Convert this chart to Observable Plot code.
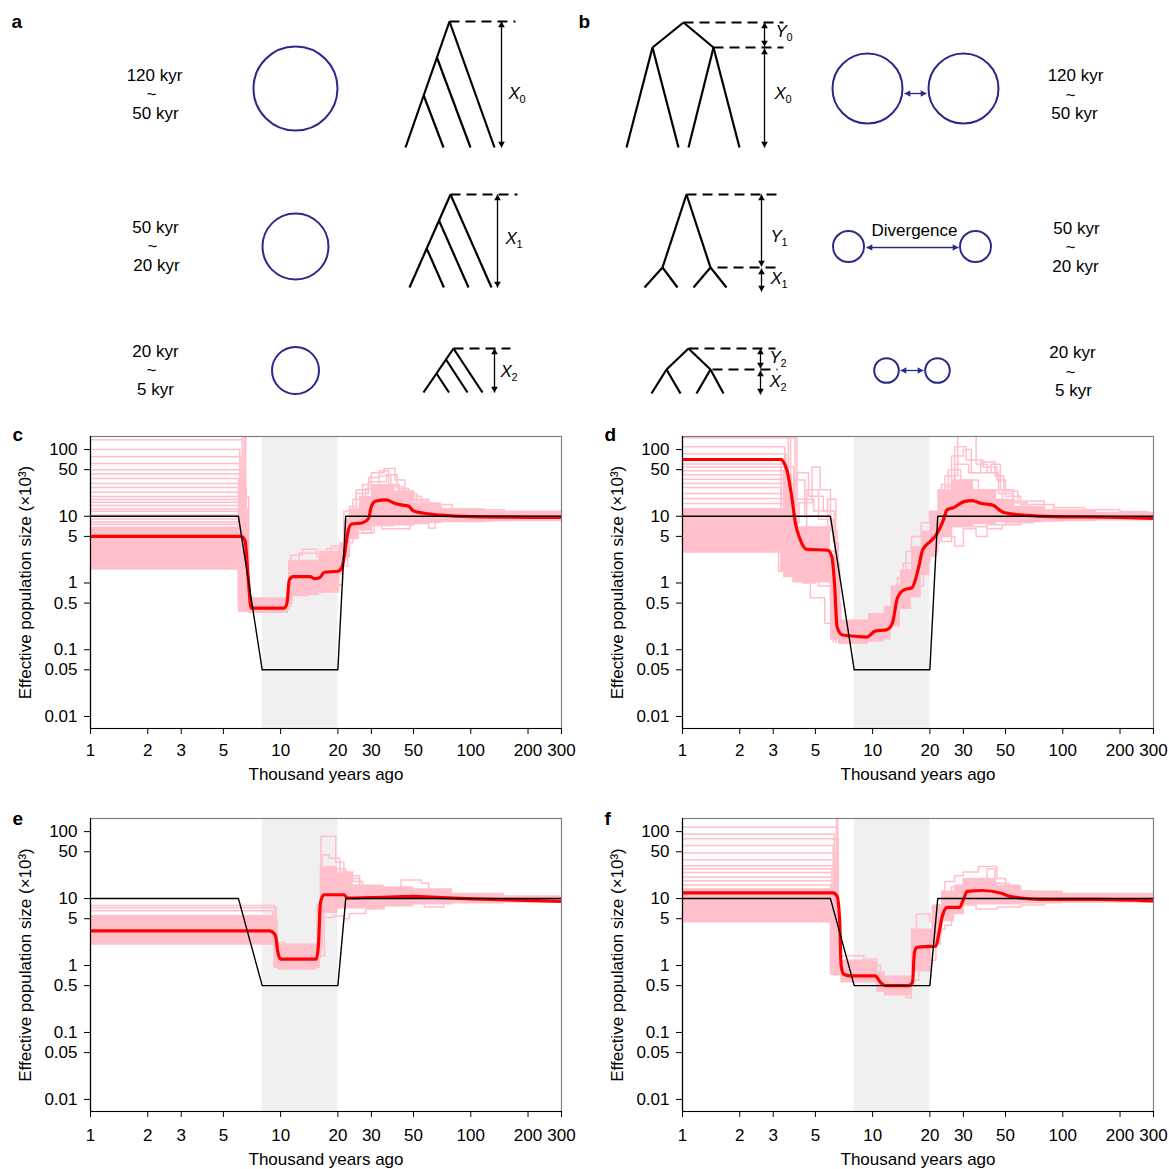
<!DOCTYPE html>
<html><head><meta charset="utf-8">
<script src="https://cdn.jsdelivr.net/npm/d3@7"></script>
<script src="https://cdn.jsdelivr.net/npm/@observablehq/plot@0.6"></script>
<style>
html,body{margin:0;padding:0;background:#fff;width:1169px;height:1169px;overflow:hidden;}
#root{position:relative;width:1169px;height:1169px;}
</style></head><body><div id="root"></div>
<script>
// ---------- shared axes ----------
const xTicks = [1, 2, 3, 5, 10, 20, 30, 50, 100, 200, 300];
const yTicks = [0.01, 0.05, 0.1, 0.5, 1, 5, 10, 50, 100];
const xTitle = "Thousand years ago";
const yTitle = "Effective population size (×10³)";
const shade = [8, 20];

// ---------- panel c ----------
const truthC = [[1,10],[6,10],[8,0.05],[20,0.05],[22,10],[300,10]];
const redC = [[1,5],[6.2,5],[6.5,4.3],[6.75,1.2],[7.0,0.42],[10.4,0.42],[10.8,0.5],[11.1,1.1],[11.6,1.25],[14.3,1.25],[15,1.16],[16,1.2],[17,1.45],[20,1.5],[21,1.7],[21.8,3],[22.5,5.5],[23.5,7.6],[27,8],[29,9.3],[30,14],[31.5,16.8],[36,17.6],[39,16],[43,14.8],[47,14.2],[50,12],[57,11.1],[70,10.4],[100,9.9],[300,9.6]];
const bandC = [[1,1.55,6.9],[6.0,0.36,8],[6.8,0.35,0.6],[11.0,0.65,2.2],[16,0.7,3],[20.5,1.3,4],[21.5,2.5,9],[23,4.5,13],[26,6,20],[30,7,30],[40,7.5,24],[50,7.8,16],[70,8,13],[120,8.3,12],[300,8.3,11]];
const earlyC = [[500,6.45],[300,6.3],[200,6.55],[140,6.3],[100,6.1],[78,6.2],[62,6.5],[50,6.4],[43,6.15],[37,6.0],[31,6.45],[27,6.6],[23,6.2],[19.8,6.8],[17.8,6.5],[16.2,6.1],[14.5,6.3],[12.9,6.7],[11.9,6.0],[10.5,6.4],[9.1,6.2],[8.2,6.6],[7.6,6.35]];
const floorC = [0.45, 7.2];
const extraC = [
 [[10.8,0.45],[11.3,2.6],[13,3.2],[15.5,2.5],[17.5,3.3],[20.3,2.2],[21,1.5]],
 [[10.8,0.4],[11.1,0.65],[14,0.72],[16.5,0.9],[20.5,0.95],[21.2,1.6]],
 [[10.6,0.5],[11.5,1.8],[12.5,2.8],[16,2.2],[18.5,3.6],[20.6,2.8],[21.3,4]],
 [[20.5,2],[21.5,12],[24,18],[27,30],[30,45],[35,52],[40,35],[45,20],[55,14],[70,11.5],[100,10.5]],
 [[20.5,3],[22,8],[25,22],[29,38],[33,48],[37,30],[42,24],[50,17],[60,13],[90,11]],
 [[21,1.8],[22.5,6],[24,5.6],[26,5.6],[30,8.5],[34,6.5],[46,6.5],[48,7.8],[60,6.6],[65,9],[100,9.5]],
 [[21,2.5],[23,10],[26,15],[28,26],[33,40],[38,28],[44,22],[52,15],[80,12],[120,11]],
 [[22,4],[24,7],[27,5.6],[31,9],[38,7.5],[50,8.2],[70,8.5],[130,9]],
 [[21.5,6],[23,14],[25,25],[29,33],[36,42],[41,26],[47,18],[60,12.5]],
 [[60,10],[75,13],[110,12.5],[150,11],[200,10.5]]
];

// ---------- panel d ----------
const truthD = [[1,10],[6,10],[8,0.05],[20,0.05],[22,10],[300,10]];
const redD = [[1,71],[3.3,71],[3.45,60],[3.55,48],[3.77,18],[3.92,8],[4.17,4.4],[4.5,3.2],[5.8,3.1],[6.1,2.5],[6.3,1.0],[6.5,0.22],[6.9,0.168],[8.3,0.158],[9.3,0.155],[10.3,0.19],[11.9,0.2],[12.7,0.25],[13.5,0.6],[14.6,0.79],[16.1,0.85],[17.5,1.77],[18.3,3.1],[20.1,4.2],[21.3,5],[23.6,8.9],[24.6,12.5],[26.7,13.5],[30.2,16.6],[33.4,17.2],[36.9,15.7],[43.4,14.5],[45.2,13.2],[49,11.4],[60,10.5],[80,10],[200,9.6],[300,9.3]];
const bandD = [[1,2.8,13],[3.4,1.2,14],[3.8,1.0,7],[6.0,0.14,2.5],[6.6,0.12,0.28],[9.5,0.13,0.35],[11.5,0.14,0.45],[12.5,0.22,0.9],[14,0.4,1.6],[16,0.6,3.5],[18,1.3,6],[20,2.5,12],[22,5,25],[26,7,35],[34,7.5,25],[45,8,18],[55,8,14],[80,8.3,12.5],[150,8.5,11.5],[300,8.5,11]];
const earlyD = [[400,3.6],[300,3.9],[200,3.7],[150,4.0],[110,3.45],[86,3.5],[72,3.3],[61,3.6],[55,3.85],[48,3.4],[42,3.75],[36,3.7],[31,3.55],[27,3.3],[22,3.5],[18.5,3.65],[15.5,3.8],[13,3.2],[11.5,3.9],[9,3.45],[7,3.6],[5.5,3.35]];
const floorD = [1.5, 4.2];
const extraD = [
 [[3.5,30],[4.0,45],[4.6,20],[5.5,12],[6.3,0.3],[6.6,0.15]],
 [[3.6,8],[4.1,16],[4.8,55],[5.3,25],[6.0,6],[6.5,0.2]],
 [[3.7,4],[4.3,1.0],[5.0,2.2],[6.1,0.9],[6.4,0.25]],
 [[3.4,12],[3.9,35],[4.4,10],[5.8,18],[6.4,2],[6.7,0.14]],
 [[4.2,3],[4.7,0.6],[5.6,0.25],[6.2,0.13]],
 [[3.8,6],[4.5,25],[5.2,9],[6.2,4],[6.6,0.2]],
 [[3.9,2.5],[4.6,5.5],[5.4,1.6],[6.3,0.5],[6.8,0.13]],
 [[4.0,18],[4.9,12],[5.8,3],[6.5,0.16]],
 [[3.6,1.3],[4.4,2],[5.2,0.9],[6.0,0.6],[6.4,0.13]],
 [[12.5,0.5],[13.5,1.2],[15,3],[16,5],[18,8],[20,12]],
 [[11.5,0.35],[13,0.7],[14.5,2],[17,3],[19,5],[21,9]],
 [[21,5],[24,40],[28,160],[35,60],[40,45],[46,22],[55,14],[70,12],[100,11]],
 [[20.5,8],[23,30],[27,110],[31,70],[38,55],[45,35],[50,20],[60,15],[90,12.5]],
 [[19,2.5],[21,6],[24,5],[27,3.6],[30,6.5],[35,5],[40,7.5],[50,8],[70,8.5],[100,9]],
 [[20,4],[22.5,20],[26,80],[30,100],[33,45],[42,60],[47,25],[55,17],[80,13]],
 [[18,1.8],[19.5,3],[22,11],[25,50],[29,35],[36,25],[48,16],[65,12]],
 [[17,0.9],[18.5,2],[20,5],[23,4.2],[26,7],[40,6.5],[48,7.5],[60,8]],
 [[21.5,10],[24,28],[27,60],[32,45],[37,65],[44,40],[49,24],[58,16]],
 [[70,10],[90,13.5],[130,12.5],[200,11.8],[280,11]]
];

// ---------- panel e ----------
const truthE = [[1,10],[6,10],[8,0.5],[20,0.5],[22,10],[300,10]];
const redE = [[1,3.3],[8.7,3.3],[9.0,3.2],[9.4,2.8],[9.66,1.6],[10,1.25],[15.4,1.25],[15.8,2.0],[16.2,8.8],[16.9,11.4],[21.5,11.4],[22.5,10.2],[40,10.6],[50,10.8],[70,10.3],[100,9.9],[300,9.1]];
const bandE = [[1,2.0,5.6],[9.2,0.9,5.0],[9.7,0.85,2.1],[15.5,0.9,8],[16.2,6,30],[20,7,24],[24,7,16],[35,7.5,15],[50,8,14],[80,8.3,12],[150,8.5,11],[300,8.5,11]];
const earlyE = [[7.9,9.3],[7.3,9.5],[6.6,9.1]];
const floorE = [2, 9.8];
const extraE = [
 [[15.8,1.5],[16.3,85],[19.5,35],[21.5,20],[23.5,12],[30,11]],
 [[16,2],[16.5,45],[18,40],[20.5,25],[24,18],[27,12]],
 [[15.5,1.3],[16.2,30],[19,28],[22,22],[26,14],[32,11]],
 [[16,1.8],[16.6,5.2],[19,5.5],[21.5,5],[23,6],[28,7],[35,9]],
 [[16.2,1.4],[17,22],[23,20],[26,13],[35,12]],
 [[40,10],[43,19],[55,17],[60,12]],
 [[55,10],[57,13.5],[73,12],[80,10]],
 [[48,9],[57,7.5],[72,8.5]],
 [[9.6,2.2],[10.5,1.9],[15.6,2]]
];

// ---------- panel f ----------
const truthF = [[1,10],[6,10],[8,0.5],[20,0.5],[22,10],[300,10]];
const redF = [[1,12.2],[6.2,12.2],[6.5,10.8],[6.7,5],[6.83,1.0],[7.05,0.74],[7.6,0.7],[10.3,0.7],[11,0.56],[11.7,0.5],[15.5,0.5],[16.2,0.56],[16.6,1.58],[17.1,1.87],[21.5,1.95],[22.3,3],[23.3,5.6],[24.7,7.4],[28.7,7.4],[30.1,9.9],[31.4,12.8],[37.7,13.2],[47,12.1],[52,10.9],[60,10.2],[76,9.7],[150,9.7],[300,9.2]];
const bandF = [[1,4.3,14],[6.2,0.7,6],[6.8,0.55,1.15],[10.5,0.4,0.8],[11.5,0.35,0.7],[16,0.8,3.5],[20.5,2,8],[23,4.5,13],[27,6,16],[30,8,20],[45,8,16],[60,8.3,13],[100,8.5,12],[300,8.5,11]];
const earlyF = [[400,6.45],[250,6.55],[116,6.5],[92,6.3],[78,6.6],[62,6.2],[48,6.45],[38,6.3],[31,6.4],[28,6.1],[24.5,6.6],[21,6.3],[18.4,6.5],[16,6.0]];
const floorF = [0.75, 7.5];
const extraF = [
 [[6.8,1.4],[9,1.25],[10.5,0.8],[11.5,0.45]],
 [[7,1.2],[10,1.0],[11,0.6],[15,0.33],[16,0.6]],
 [[15.5,0.5],[16.5,3.5],[17,5.9],[20,4.5],[22,8],[25,12]],
 [[16,0.6],[17.5,1.2],[20.5,1.2],[21.5,3],[23,5]],
 [[22,6],[24,18],[27,22],[30,25],[36,30],[45,20],[50,15],[60,12]],
 [[23,8],[26,15],[30,20],[40,28],[44,17],[52,13],[70,11]],
 [[22,3.5],[24,4],[26,6],[30,8],[35,7],[45,7.5],[60,8],[80,8.5]]
];

// ---------- schematic panels a and b ----------
const treeA = [
 [449,21,405,147],[449,21,494,147],[436.4,57,470,147],[423.2,95,443,147],
 [450,194,409,287],[450,194,491,287],[438.5,220,468,287],[426.2,248,443.4,287],
 [453,348,423,392],[453,348,482,392],[445.5,359,467,392],[436,373,448.5,392]
];
const treeB = [
 [683,22,652,47],[683,22,713,47],[652,47,626,147],[652,47,678,147],[713,47,688,147],[713,47,739,147],
 [686,194,662,267],[686,194,710,267],[662,267,644,287],[662,267,677,287],[710,267,693,287],[710,267,726,287],
 [688,348,666,369],[688,348,710,369],[666,369,651,393],[666,369,680,393],[710,369,696,393],[710,369,723,393]
];
const dashes = [
 [449,21,515,21],[450,194,517,194],[453,348,510,348],
 [683,22,783,22],[713,47,783,47],[686,194,778,194],[717,267,779,267],[688,348,775,348],[712,369,777,369]
];
const vArrows = [
 [501,21,501,147],[497,194,497,287],[494,348,494,392],
 [764,22,764,46],[764,48,764,147],[761,194,761,266],[761,268,761,291],[760,348,760,368],[760,370,760,394]
];
const hArrows = [[904,93,926,93],[866,247,958,247],[900,370,923,370]];
const circles = [[295,88,42],[295,246,33],[295,370,23.5],[867,88,35],[963,88,35],[848,246,15.5],[975,246,15.5],[886,370,12.3],[937,370,12.3]];
const varLabels = [
 [508,93,"X","0"],[505,238,"X","1"],[500,371,"X","2"],
 [775,31,"Y","0"],[774,93,"X","0"],[770,236,"Y","1"],[770,278,"X","1"],[769,357,"Y","2"],[769,381,"X","2"]
];
const timeLabels = [
 [154,75,"120 kyr"],[151,94,"~"],[155,113,"50 kyr"],
 [155,227,"50 kyr"],[152,246,"~"],[156,265,"20 kyr"],
 [155,351,"20 kyr"],[151,370,"~"],[155,389,"5 kyr"],
 [1075,75,"120 kyr"],[1070,95,"~"],[1074,113,"50 kyr"],
 [1076,228,"50 kyr"],[1070,247,"~"],[1075,266,"20 kyr"],
 [1072,352,"20 kyr"],[1070,372,"~"],[1073,390,"5 kyr"]
];
const noteLabels = [[914,230,"Divergence"]];
const panelLetters = [[11,27,"a"],[578,27,"b"]];

// ---------- styling ----------
const FONT = "'Liberation Sans', Arial, Helvetica, sans-serif";
const PINK = "#ffc0cb";
const NAVY = "#2a2a8c";
const Y_DOMAIN = [0.0066, 157];

const root = document.getElementById("root");
function place(node, left, top, w) {
  const div = document.createElement("div");
  div.style.cssText = `position:absolute;left:${left}px;top:${top}px;width:${w}px;`;
  div.appendChild(node);
  root.appendChild(div);
}

function panel(c) {
  const rows = [];
  c.early.forEach(([L, xe], i) =>
    [[1, L], [xe, c.floor[0]], [c.floor[1], c.floor[0]]].forEach(([x, y]) => rows.push({id: "e" + i, x, y})));
  c.extra.forEach((pts, i) => pts.forEach(([x, y]) => rows.push({id: "x" + i, x, y})));
  const bandRows = c.band.map(([x, lo, hi]) => ({x, lo, hi}));
  return Plot.plot({
    width: c.w, height: c.h,
    marginLeft: 90, marginRight: c.mr, marginTop: 16, marginBottom: c.mb,
    style: {fontFamily: FONT, fontSize: "17px", color: "black", background: "white", overflow: "visible"},
    x: {type: "log", domain: [1, 300]},
    y: {type: "log", domain: Y_DOMAIN},
    marks: [
      Plot.rect([shade], {x1: d => d[0], x2: d => d[1], fill: "#f0f0f0"}),
      Plot.areaY(bandRows, {x: "x", y1: "lo", y2: "hi", curve: "step-after", fill: PINK, clip: true}),
      Plot.line(rows, {x: "x", y: "y", z: "id", curve: "step-after", stroke: PINK, strokeWidth: 1.5, clip: true}),
      Plot.line(c.red, {x: d => d[0], y: d => d[1], curve: "monotone-x", stroke: "#ff0000", strokeWidth: 3.2, clip: true}),
      Plot.line(c.truth, {x: d => d[0], y: d => d[1], stroke: "black", strokeWidth: 1.4}),
      Plot.frame({stroke: "#808080", strokeWidth: 1.2}),
      Plot.ruleX([1], {stroke: "black", strokeWidth: 1.2}),
      Plot.ruleY([Y_DOMAIN[0]], {stroke: "black", strokeWidth: 1.2}),
      Plot.axisX({ticks: xTicks, tickFormat: () => "", tickSize: 6, label: null}),
      Plot.axisY({ticks: yTicks, tickFormat: () => "", tickSize: 6, label: null}),
      Plot.text(xTicks, {x: d => d, text: d => String(d), frameAnchor: "bottom", textAnchor: "middle", lineAnchor: "middle", dy: c.tdy, fontSize: 17}),
      Plot.text(yTicks, {y: d => d, text: d => String(d), frameAnchor: "left", textAnchor: "end", lineAnchor: "middle", dx: -13, fontSize: 17}),
      Plot.text([xTitle], {text: d => d, frameAnchor: "bottom", textAnchor: "middle", lineAnchor: "middle", dy: c.tdy + 24, fontSize: 17}),
      Plot.text([yTitle], {text: d => d, frameAnchor: "left", textAnchor: "middle", lineAnchor: "middle", dx: -65, rotate: -90, fontSize: 17}),
      Plot.text([c.letter], {text: d => d, frameAnchor: "top-left", dx: -78, dy: c.ldy, lineAnchor: "bottom", textAnchor: "start", fontWeight: "bold", fontSize: 19})
    ]
  });
}

// schematic
const scheme = Plot.plot({
  width: 1169, height: 410, margin: 0, axis: null,
  x: {type: "identity"}, y: {type: "identity"}, r: {type: "identity"},
  style: {fontFamily: FONT, fontSize: "17px", color: "black", background: "white"},
  marks: [
    Plot.link(treeA.concat(treeB), {x1: d => d[0], y1: d => d[1], x2: d => d[2], y2: d => d[3], stroke: "black", strokeWidth: 2.2, strokeLinecap: "butt"}),
    Plot.link(dashes, {x1: d => d[0], y1: d => d[1], x2: d => d[2], y2: d => d[3], stroke: "black", strokeWidth: 2, strokeDasharray: "10,6"}),
    Plot.link(vArrows, {x1: d => d[0], y1: d => d[1], x2: d => d[2], y2: d => d[3], stroke: "black", strokeWidth: 1.3}),
    Plot.dot(vArrows, {x: d => d[0], y: d => d[1], r: 3.2, symbol: "triangle2", fill: "black", dy: 3.9}),
    Plot.dot(vArrows, {x: d => d[2], y: d => d[3], r: 3.2, symbol: "triangle2", fill: "black", rotate: 180, dy: -3.9}),
    Plot.dot(circles, {x: d => d[0], y: d => d[1], r: d => d[2], stroke: NAVY, strokeWidth: 2, fill: "none"}),
    Plot.link(hArrows, {x1: d => d[0], y1: d => d[1], x2: d => d[2], y2: d => d[3], stroke: NAVY, strokeWidth: 1.3}),
    Plot.dot(hArrows, {x: d => d[0], y: d => d[1], r: 3.2, symbol: "triangle2", fill: NAVY, rotate: -90, dx: 3.9}),
    Plot.dot(hArrows, {x: d => d[2], y: d => d[3], r: 3.2, symbol: "triangle2", fill: NAVY, rotate: 90, dx: -3.9}),
    Plot.text(timeLabels, {x: d => d[0], y: d => d[1], text: d => d[2], fontSize: 17}),
    Plot.text(noteLabels, {x: d => d[0], y: d => d[1], text: d => d[2], fontSize: 17}),
    Plot.text(varLabels, {x: d => d[0], y: d => d[1], text: d => d[2], fontStyle: "italic", textAnchor: "start", fontSize: 17}),
    Plot.text(varLabels, {x: d => d[0], y: d => d[1], text: d => d[3], textAnchor: "start", dx: 11, dy: 6, fontSize: 11}),
    Plot.text(panelLetters, {x: d => d[0], y: d => d[1], text: d => d[2], textAnchor: "start", lineAnchor: "bottom", fontWeight: "bold", fontSize: 19})
  ]
});
place(scheme, 0, 0, 1169);

place(panel({letter: "c", truth: truthC, red: redC, band: bandC, early: earlyC, floor: floorC, extra: extraC, w: 580, h: 370, mr: 19, mb: 62, ldy: 4, tdy: 22}), 0, 420, 580);
place(panel({letter: "d", truth: truthD, red: redD, band: bandD, early: earlyD, floor: floorD, extra: extraD, w: 577, h: 370, mr: 16, mb: 62, ldy: 4, tdy: 22}), 592, 420, 577);
place(panel({letter: "e", truth: truthE, red: redE, band: bandE, early: earlyE, floor: floorE, extra: extraE, w: 580, h: 367, mr: 19, mb: 58, ldy: 6, tdy: 24}), 0, 802, 580);
place(panel({letter: "f", truth: truthF, red: redF, band: bandF, early: earlyF, floor: floorF, extra: extraF, w: 577, h: 367, mr: 16, mb: 58, ldy: 6, tdy: 24}), 592, 802, 577);
</script></body></html>
